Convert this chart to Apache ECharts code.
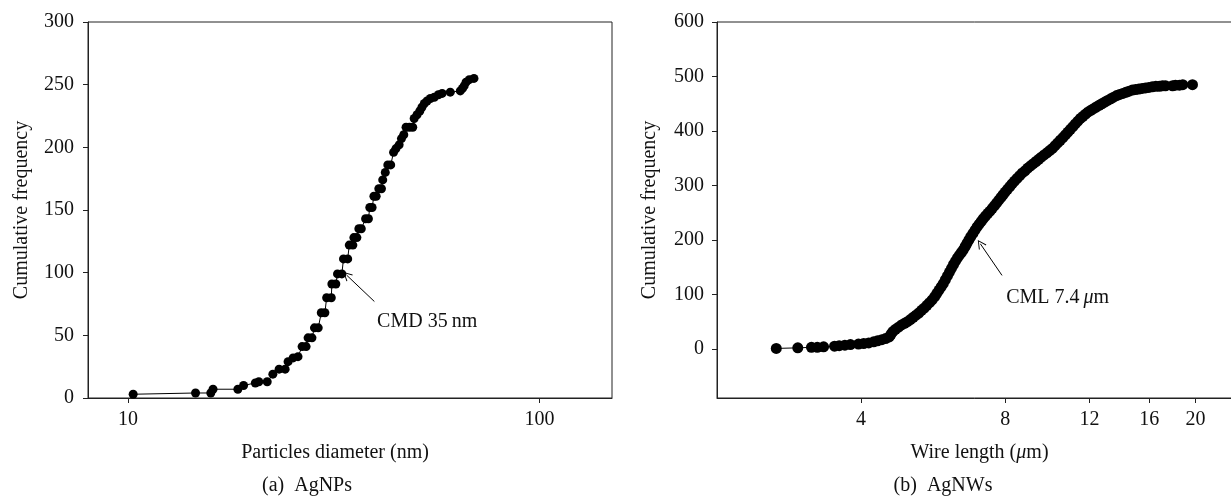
<!DOCTYPE html>
<html>
<head>
<meta charset="utf-8">
<script src="https://cdn.jsdelivr.net/npm/echarts@6/dist/echarts.min.js"></script>
<style>
html,body{margin:0;padding:0;background:#fff;}
#c{width:1231px;height:503px;}
</style>
</head>
<body>
<div id="c"></div>
<script>
// (a) AgNPs: particle diameter (nm) vs cumulative frequency
const npDiameter = [10.3,14.6,15.9,16.1,18.5,19.1,20.4,20.8,21.8,22.5,23.3,24.1,24.5,25.2,25.9,26.5,27.1,27.4,28.0,28.4,29.0,29.5,30.1,30.4,31.2,31.3,32.0,32.3,33.1,33.4,34.2,34.5,35.2,35.4,36.0,36.4,36.9,37.8,38.4,38.7,39.2,39.6,40.1,40.7,41.3,41.6,42.2,42.8,43.5,44.2,44.8,45.6,46.2,46.8,47.4,48.3,49.2,49.6,50.4,51.2,51.8,52.5,53.3,54.3,55.5,56.8,58.0,60.7,64.2,65.0,65.6,66.3,67.5,69.3];
const npFreq     = [3,4,4,7,7,10,12,13,13,19,23,23,29,32,33,41,41,48,48,56,56,68,68,80,80,91,91,99,99,111,111,122,122,128,128,135,135,143,143,152,152,161,161,167,167,174,180,186,186,196,199,202,207,210,216,216,216,223,226,229,232,235,237,239,240,242,243,244,245,247,249,252,254,255];

// (b) AgNWs: wire length (um) vs cumulative frequency
const nwLength = [2.66,2.95,3.15,3.24,3.34,3.52,3.60,3.70,3.80,3.95,4.05,4.15,4.25,4.33,4.42,4.50,4.58,
  4.62,4.66,4.72,4.79,4.86,4.93,5.00,5.07,5.14,5.21,5.28,5.35,5.42,5.49,5.56,5.63,5.70,5.76,5.82,5.88,5.94,6.00,6.06,6.12,6.18,6.24,6.30,6.36,6.42,6.48,6.54,6.60,6.66,6.72,6.78,6.85,6.92,6.99,7.06,7.13,7.20,7.28,7.36,7.44,7.52,7.60,7.68,7.76,7.84,7.92,8.00,8.09,8.18,8.27,8.37,8.47,8.58,8.69,8.80,8.92,9.04,9.16,9.28,9.40,9.52,9.65,9.78,9.91,10.04,10.17,10.30,10.43,10.56,10.69,10.82,10.95,11.08,11.21,11.35,11.49,11.63,11.78,11.93,12.08,12.24,12.40,12.57,12.74,12.92,13.10,13.29,13.48,13.68,13.88,14.09,14.30,14.52,14.75,14.98,15.22,15.46,15.71,15.97,16.24,16.52,16.80,17.05,17.30,17.90,18.15,18.50,18.80,19.70];
const nwFreq   = [1,2,3,3,4,5,6,7,8,9,10,11,13,15,17,19,22,
  27,32,36,40,44,47,50,54,58,62,66,71,75,80,85,90,96,102,108,114,120,127,134,141,148,155,161,167,172,177,182,188,194,200,206,212,218,224,229,234,239,244,249,253,258,263,268,273,278,283,288,293,298,303,308,313,318,323,327,332,336,340,344,348,352,356,360,364,368,373,378,383,388,393,398,403,408,413,418,423,427,431,435,438,441,444,447,450,453,456,459,462,465,467,469,471,473,475,476,477,478,479,480,481,482,482,483,483,483,484,484,485,485];

const npXTicks = [10, 100];
const npYTicks = [0, 50, 100, 150, 200, 250, 300];
const nwXTicks = [4, 8, 12, 16, 20];
const nwYTicks = [0, 100, 200, 300, 400, 500, 600];

// annotations (data coordinates)
const npArrow = [[39.7, 77], [34.0, 98]];
const npNote = [40.2, 60.5];
const nwArrow = [[7.88, 135], [7.1, 193]];
const nwNote = [8.02, 93.5];

const FONT = 'Liberation Serif';
const TXT = '#111';
const AX = '#222';
const chevron = 'path://M5,0 L10,9 L9.1,9.6 L5,1.9 L0.9,9.6 L0,9 Z';

const npData = npDiameter.map((d, i) => [d, npFreq[i]]);
const nwData = nwLength.map((d, i) => [d, nwFreq[i]]);

function axisCommon() {
  return {
    axisLine: { show: true, onZero: false, lineStyle: { color: AX, width: 1 } },
    axisTick: { show: true, inside: false, length: 5, lineStyle: { color: AX, width: 1 } },
    splitLine: { show: false },
    minorTick: { show: false },
    minorSplitLine: { show: false },
    nameLocation: 'middle',
    nameMoveOverlap: false,
    nameTextStyle: { fontFamily: FONT, fontSize: 20, color: TXT }
  };
}

function mk(base, extra) {
  const o = axisCommon();
  Object.keys(extra).forEach(k => {
    if (o[k] && typeof o[k] === 'object' && !Array.isArray(o[k])) o[k] = Object.assign({}, o[k], extra[k]);
    else o[k] = extra[k];
  });
  return Object.assign(o, base);
}

const chart = echarts.init(document.getElementById('c'), null, { renderer: 'canvas' });
chart.setOption({
  animation: false,
  backgroundColor: '#fff',
  textStyle: { fontFamily: FONT },
  grid: [
    { left: 88, right: 619, top: 22, bottom: 105, show: true, borderColor: AX, borderWidth: 1, containLabel: false, outerBoundsMode: 'none' },
    { left: 717, right: -11, top: 22, bottom: 105, show: true, borderColor: AX, borderWidth: 1, containLabel: false, outerBoundsMode: 'none' }
  ],
  xAxis: [
    mk({ type: 'log', logBase: 10, gridIndex: 0, min: 8, max: 150,
         name: 'Particles diameter (nm)', nameGap: 45 }, {
      axisTick: { customValues: npXTicks },
      axisLabel: { customValues: npXTicks, fontFamily: FONT, fontSize: 20, color: TXT, margin: 12 },
      nameTextStyle: { padding: [0, 30, 0, 0] }
    }),
    mk({ type: 'log', logBase: 10, gridIndex: 1, min: 2, max: 25,
         name: '{n|Wire length (}{i|\u03bc}{n|m)}', nameGap: 45 }, {
      axisTick: { customValues: nwXTicks },
      axisLabel: { customValues: nwXTicks, fontFamily: FONT, fontSize: 20, color: TXT, margin: 12 },
      nameTextStyle: { rich: { n: { fontFamily: FONT, fontSize: 20, color: TXT }, i: { fontFamily: FONT, fontSize: 20, color: TXT, fontStyle: 'italic' } } }
    })
  ],
  yAxis: [
    mk({ type: 'value', gridIndex: 0, min: 0, max: 300, interval: 50,
         name: 'Cumulative frequency', nameGap: 56 }, {
      axisTick: { customValues: npYTicks },
      axisLabel: { customValues: npYTicks, fontFamily: FONT, fontSize: 20, color: TXT, margin: 14 }
    }),
    mk({ type: 'value', gridIndex: 1, min: -90, max: 600,
         name: 'Cumulative frequency', nameGap: 57 }, {
      axisTick: { customValues: nwYTicks },
      axisLabel: { customValues: nwYTicks, fontFamily: FONT, fontSize: 20, color: TXT, margin: 13 }
    })
  ],
  series: [
    {
      type: 'line', xAxisIndex: 0, yAxisIndex: 0, data: npData,
      symbol: 'circle', symbolSize: 9, showSymbol: true,
      lineStyle: { color: '#000', width: 1 }, itemStyle: { color: '#000' },
      silent: true,
      markLine: {
        silent: true, animation: false, label: { show: false },
        lineStyle: { color: '#000', width: 1, type: 'solid' },
        data: [[{ coord: npArrow[0], symbol: 'none' }, { coord: npArrow[1], symbol: chevron, symbolSize: 9 }]]
      },
      markPoint: {
        silent: true, symbol: 'circle', symbolSize: 1, itemStyle: { color: 'rgba(0,0,0,0)' },
        data: [{ coord: npNote, label: { show: true, position: 'right', distance: 0, formatter: 'CMD 35\u2009nm', fontFamily: FONT, fontSize: 20, color: TXT } }]
      }
    },
    {
      type: 'line', xAxisIndex: 1, yAxisIndex: 1, data: nwData,
      symbol: 'circle', symbolSize: 11, showSymbol: true,
      lineStyle: { color: '#000', width: 1 }, itemStyle: { color: '#000' },
      silent: true,
      markLine: {
        silent: true, animation: false, label: { show: false },
        lineStyle: { color: '#000', width: 1, type: 'solid' },
        data: [[{ coord: nwArrow[0], symbol: 'none' }, { coord: nwArrow[1], symbol: chevron, symbolSize: 9 }]]
      },
      markPoint: {
        silent: true, symbol: 'circle', symbolSize: 1, itemStyle: { color: 'rgba(0,0,0,0)' },
        data: [{ coord: nwNote, label: { show: true, position: 'right', distance: 0,
          formatter: '{n|CML 7.4\u2009}{i|\u03bc}{n|m}',
          rich: { n: { fontFamily: FONT, fontSize: 20, color: TXT }, i: { fontFamily: FONT, fontSize: 20, color: TXT, fontStyle: 'italic' } } } }]
      }
    }
  ],
  graphic: [
    { type: 'text', x: 307, y: 486, silent: true, style: { text: '(a)  AgNPs', textAlign: 'center', textVerticalAlign: 'middle', fontFamily: FONT, fontSize: 20, fill: TXT } },
    { type: 'text', x: 943, y: 486, silent: true, style: { text: '(b)  AgNWs', textAlign: 'center', textVerticalAlign: 'middle', fontFamily: FONT, fontSize: 20, fill: TXT } }
  ]
});
</script>
</body>
</html>
